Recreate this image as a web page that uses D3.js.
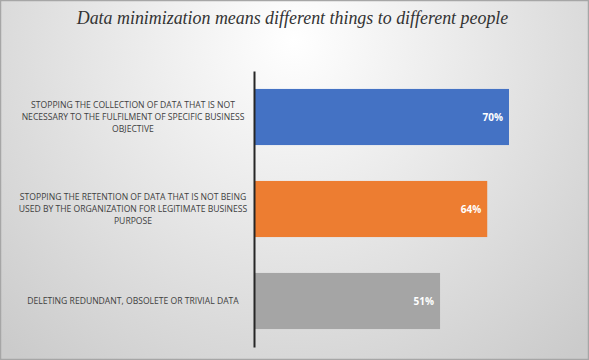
<!DOCTYPE html>
<html><head><meta charset="utf-8">
<script src="https://cdn.jsdelivr.net/npm/d3@7"></script>
<style>html,body{margin:0;padding:0;background:#fff;}svg{display:block;}</style>
</head><body>
<script>
const title = "Data minimization means different things to different people";
const categories = [
  ["STOPPING THE COLLECTION OF DATA THAT IS NOT", "NECESSARY TO THE FULFILMENT OF SPECIFIC BUSINESS", "OBJECTIVE"],
  ["STOPPING THE RETENTION OF DATA THAT IS NOT BEING", "USED BY THE ORGANIZATION FOR LEGITIMATE BUSINESS", "PURPOSE"],
  ["DELETING REDUNDANT, OBSOLETE OR TRIVIAL DATA"]
];
const values = [0.70, 0.64, 0.51];
const valueLabels = ["70%", "64%", "51%"];
const colors = ["#4472C4", "#ED7D31", "#A5A5A5"];

const W = 589, H = 360;
const svg = d3.select("body").append("svg").attr("width", W).attr("height", H);
const defs = svg.append("defs");
const grad = defs.append("radialGradient").attr("id","bg")
  .attr("gradientUnits","userSpaceOnUse").attr("cx",294).attr("cy",40).attr("r",420);
grad.append("stop").attr("offset","0%").attr("stop-color","#ffffff");
grad.append("stop").attr("offset","100%").attr("stop-color","#cbcbcb");
svg.append("rect").attr("x",0.5).attr("y",0.5).attr("width",W-1).attr("height",H-1)
  .attr("fill","url(#bg)").attr("stroke","#a6a6a6").attr("stroke-width",1.5);

svg.append("text").attr("x",292.5).attr("y",24).attr("text-anchor","middle")
  .attr("font-family","Liberation Serif, Times New Roman, serif").attr("font-style","italic")
  .attr("font-size",17.9).attr("fill","#333").text(title);

const x = d3.scaleLinear().domain([0, 0.8]).range([255, 255 + 0.8 * 254 / 0.7]);
const y = d3.scaleBand().domain(d3.range(categories.length)).range([71, 347])
  .paddingInner(0.39).paddingOuter(0.195);

svg.selectAll("rect.bar").data(values).join("rect").attr("class","bar")
  .attr("x", x(0)).attr("y",(d,i)=>y(i)).attr("width", d=>x(d)-x(0))
  .attr("height", y.bandwidth()).attr("fill",(d,i)=>colors[i]);

svg.selectAll("text.val").data(values).join("text").attr("class","val")
  .attr("x", d=>x(d)-6).attr("y",(d,i)=>y(i)+y.bandwidth()/2+4)
  .attr("text-anchor","end").attr("font-family","Open Sans, Carlito, sans-serif")
  .attr("font-weight","bold").attr("font-size",10).attr("fill","#fff")
  .text((d,i)=>valueLabels[i]);

// axis line
const yAxis = d3.axisLeft(y).tickSize(0).tickFormat("");
const ax = svg.append("g").attr("transform",`translate(${x(0)-1},0)`).call(yAxis);
ax.select(".domain").attr("stroke","#262626").attr("stroke-width",2);

// category labels
const lg = svg.append("g").attr("font-family","Open Sans, Carlito, sans-serif")
  .attr("font-size",8.6).attr("fill","#404040").attr("text-anchor","middle");
categories.forEach((lines,i)=>{
  const cy = y(i)+y.bandwidth()/2;
  const lh = 11.8;
  const t = lg.append("text").attr("x",133).attr("y", cy - (lines.length-1)*lh/2 + 3);
  lines.forEach((ln,j)=>t.append("tspan").attr("x",133).attr("dy", j===0?0:lh).text(ln));
});
</script>
</body></html>
